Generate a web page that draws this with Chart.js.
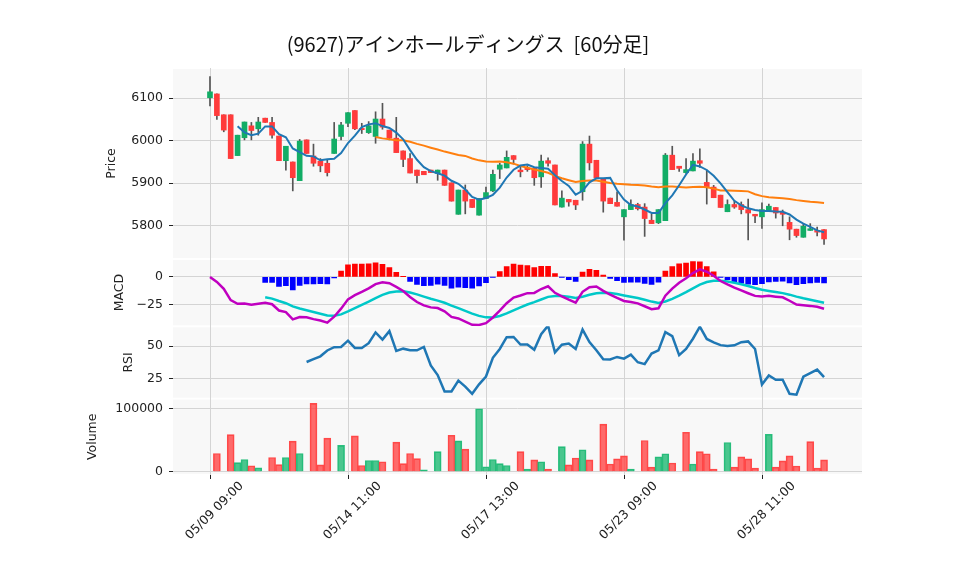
<!DOCTYPE html>
<html><head><meta charset="utf-8">
<script src="https://cdn.jsdelivr.net/npm/chart.js@4/dist/chart.umd.min.js"></script>
<style>html,body{margin:0;padding:0;background:#fff}#c{display:block}</style>
</head><body><canvas id="c" width="958" height="575"></canvas>
<script>
const days = ['05/09','05/10','05/13','05/14','05/15','05/16','05/17','05/20','05/21','05/22','05/23','05/24','05/27','05/28','05/29'];
const hours = ['09:00','10:00','11:00','12:00','13:00','14:00'];
const tickIdx = [0,20,40,60,80];
const priceTicks = [5800,5900,6000,6100];
const macdTicks = [-25,0];
const rsiTicks = [25,50];
const volTicks = [0,100000];
const opens  = [6101,6110,6061,6061,5965,6007,6035,6028,6053,6043,6011,5953,5950,5906,6002,5964,5952,5947,5970,6010,6041,6071,6029,6019,6010,6051,6025,6006,5976,5958,5931,5928,5931,5923,5931,5901,5827,5884,5862,5825,5864,5882,5933,5936,5965,5931,5936,5935,5915,5953,5943,5844,5862,5860,5880,5992,5954,5910,5865,5855,5821,5838,5850,5844,5813,5807,5812,5966,5940,5925,5929,5953,5902,5891,5872,5833,5850,5850,5838,5827,5821,5836,5843,5832,5808,5792,5773,5789,5789,5791];
const highs  = [6151,6110,6061,6061,6013,6044,6043,6055,6053,6055,6011,5987,5950,6003,6002,5992,5958,5956,6043,6043,6066,6071,6041,6045,6068,6088,6025,6055,5976,5970,5931,5928,5931,5931,5931,5901,5884,5896,5862,5864,5891,5931,5947,5976,5965,5938,5941,5935,5966,5960,5943,5882,5862,5860,5998,6011,5954,5910,5865,5880,5838,5861,5853,5852,5827,5838,5970,5987,5940,5958,5970,5981,5931,5895,5872,5861,5859,5856,5863,5827,5854,5851,5843,5837,5821,5792,5805,5805,5797,5791];
const lows   = [6082,6050,6021,5958,5965,6002,6002,6013,6043,6006,5953,5931,5882,5906,5970,5940,5927,5917,5970,6002,6033,6026,6017,6017,5994,6027,6002,5972,5939,5924,5901,5920,5925,5907,5895,5858,5827,5828,5843,5825,5864,5880,5911,5936,5945,5915,5928,5895,5890,5940,5849,5844,5846,5838,5860,5931,5913,5832,5852,5846,5766,5838,5837,5775,5805,5805,5812,5932,5928,5923,5929,5937,5851,5866,5843,5833,5841,5828,5767,5807,5794,5836,5818,5800,5767,5773,5773,5789,5776,5756];
const closes = [6115,6059,6025,5958,6013,6044,6024,6044,6043,6013,5953,5987,5913,5999,5970,5947,5941,5925,6004,6037,6066,6028,6026,6035,6051,6032,6006,5972,5956,5924,5918,5920,5925,5931,5895,5858,5884,5858,5843,5864,5878,5921,5943,5961,5956,5927,5932,5913,5952,5947,5849,5865,5856,5849,5992,5948,5913,5858,5852,5846,5838,5850,5840,5817,5805,5838,5966,5932,5935,5932,5952,5947,5890,5866,5843,5850,5844,5838,5830,5823,5838,5846,5830,5827,5792,5777,5799,5793,5785,5769];
const volumes = [0,29000,0,59000,14600,19500,9700,6500,0,22700,11400,22700,48600,29000,0,108600,11000,53500,0,42000,0,57000,10000,18000,18000,16000,0,47000,13000,29000,21000,3000,0,32000,0,58000,49000,36000,0,100000,8000,19500,13000,10000,0,32000,4300,19000,16000,4300,0,40000,11000,22000,35000,19000,0,75700,12400,20500,25400,4300,0,49700,7600,23800,28600,14000,0,62700,12400,32000,28600,4300,0,46500,7600,23800,20500,6000,0,59500,7600,17300,25400,9200,0,48000,6000,19000];
const volUp = [0,0,0,0,1,1,0,1,0,0,0,1,0,1,0,0,0,0,0,1,0,0,0,1,1,0,0,0,0,0,0,1,0,1,0,0,1,0,0,1,1,1,1,1,0,0,1,0,1,0,0,1,0,0,1,0,0,0,0,0,0,1,0,0,0,1,1,0,0,0,1,0,0,0,0,1,0,0,0,0,0,1,0,0,0,0,0,0,0,0];

const labels = [];
days.forEach(d => hours.forEach(h => labels.push(d + ' ' + h)));

function sma(arr, n){ return arr.map((v,i)=> i<n-1 ? null : arr.slice(i-n+1,i+1).reduce((a,b)=>a+b,0)/n); }
function ema(arr, n){ const k=2/(n+1); let out=[]; arr.forEach((v,i)=>{ out.push(i===0? v : v*k + out[i-1]*(1-k)); }); return out; }
const ma5 = sma(closes,5), ma25 = sma(closes,25);
const e12 = ema(closes,12), e26 = ema(closes,26);
const macd = e12.map((v,i)=>v-e26[i]);
const sigFull = ema(macd,9);
const signal = sigFull.map((v,i)=> i<8 ? null : v);
const hist = macd.map((v,i)=> i<8 ? null : v - sigFull[i]);
const rsi = closes.map((v,i)=>{
  if(i<14) return null;
  let g=0,l=0;
  for(let j=i-13;j<=i;j++){ const d=closes[j]-closes[j-1]; if(d>0) g+=d; else l-=d; }
  return l===0 ? 100 : 100 - 100/(1+g/l);
});

const pts = a => a.map((v,i)=>({x:i,y:v}));
const UPC = '#12ad66', DNC = '#ff3b3b';
const candleCol = closes.map((c,i)=> c>=opens[i] ? UPC : DNC);

const ds = [
  {type:'bar', yAxisID:'y', data: lows.map((l,i)=>({x:i,y:[l,highs[i]]})), backgroundColor:'#555', barThickness:1, grouped:false, order:3},
  {type:'bar', yAxisID:'y', data: opens.map((o,i)=>({x:i,y:[o,closes[i]===o?o+1:closes[i]]})), backgroundColor:candleCol, barThickness:5, grouped:false, order:2},
  {type:'line', yAxisID:'y', data: pts(ma5), borderColor:'#1f77b4', borderWidth:2, pointRadius:0, order:1},
  {type:'line', yAxisID:'y', data: pts(ma25), borderColor:'#ff7f0e', borderWidth:2, pointRadius:0, order:1},
  {type:'bar', yAxisID:'yM', data: pts(hist), backgroundColor: hist.map(v=>v>=0?'#ff0000':'#0000ff'), barThickness:5, grouped:false, order:3},
  {type:'line', yAxisID:'yM', data: pts(macd), borderColor:'#c000c0', borderWidth:2.5, pointRadius:0, order:1},
  {type:'line', yAxisID:'yM', data: pts(signal), borderColor:'#00c8c8', borderWidth:2.5, pointRadius:0, order:1},
  {type:'line', yAxisID:'yR', data: pts(rsi), borderColor:'#1f77b4', borderWidth:2.5, pointRadius:0, order:1},
  {type:'bar', yAxisID:'yV', data: pts(volumes), backgroundColor: volUp.map(u=>u?'rgba(30,185,115,0.8)':'rgba(255,70,70,0.8)'), borderColor: volUp.map(u=>u?'#2bbf7f':'#ff4a4a'), borderWidth:1, barThickness:7, grouped:false, order:2}
];

const tickFont = {family:'DejaVu Sans', size:12.5};
function yAxis(weight, min, max, tickList, title, tpad){
  return {position:'left', stack:'s', stackWeight:weight, min, max,
    afterBuildTicks: s => { s.ticks = tickList.map(v=>({value:v})); },
    ticks:{color:'#222', font:tickFont, padding:6, callback:v=>String(v).replace('-','\u2212')},
    grid:{color:'#d4d4d4', drawTicks:true, tickLength:4, tickColor:'#222'}, border:{display:false},
    title:{display:true, text:title, color:'#222', font:{family:'DejaVu Sans', size:12.5}, padding:{top:tpad,bottom:0}},
    afterFit: s => { s.width = 173; }
  };
}

const bgPlugin = {id:'bg', beforeDraw(ch){
  const c=ch.ctx, a=ch.chartArea; c.save(); c.fillStyle='#f8f8f8';
  ['y','yM','yR','yV'].forEach(id=>{ const s=ch.scales[id]; c.fillRect(a.left, s.top+1, a.right-a.left, s.bottom-s.top-2); });
  const xs = ch.scales.x;
  c.strokeStyle='#d4d4d4'; c.lineWidth=1;
  tickIdx.forEach(v=>{ const px=Math.round(xs.getPixelForValue(v))+0.5; c.beginPath(); c.moveTo(px,a.top); c.lineTo(px,a.bottom); c.stroke(); });
  c.restore();
}, afterDraw(ch){
  const c=ch.ctx, a=ch.chartArea, xs=ch.scales.x; c.save();
  c.fillStyle='#111'; c.font='20px "Noto Sans CJK JP"'; c.textAlign='center'; c.textBaseline='middle';
  c.fillText('(9627)アインホールディングス  [60分足]', 468, 44);
  c.strokeStyle='#222'; c.lineWidth=1; c.fillStyle='#222'; c.font='12.5px "DejaVu Sans"'; c.textAlign='right';
  tickIdx.forEach(v=>{
    const px=Math.round(xs.getPixelForValue(v))+0.5;
    c.beginPath(); c.moveTo(px,a.bottom); c.lineTo(px,a.bottom+4); c.stroke();
    c.save(); c.translate(px+31, a.bottom+9); c.rotate(-Math.PI/4); c.fillText(labels[v],0,0); c.restore();
  });
  c.restore();
}};

new Chart(document.getElementById('c'), {
  data:{datasets:ds},
  options:{responsive:false, animation:false, devicePixelRatio:1,
    layout:{padding:{top:68, right:96, left:0, bottom:100}},
    plugins:{legend:{display:false}, tooltip:{enabled:false}},
    scales:{
      x:{type:'linear', min:-5.36, max:94.5, offset:false, display:false},
      yV: yAxis(76, -5000, 116000, volTicks, 'Volume', 85),
      yR: yAxis(72, 10, 65, rsiTicks, 'RSI', 121),
      yM: yAxis(67, -44, 16, macdTicks, 'MACD', 112),
      y: yAxis(190, 5722, 6171, priceTicks, 'Price', 104)
    }
  },
  plugins:[bgPlugin]
});
</script></body></html>
